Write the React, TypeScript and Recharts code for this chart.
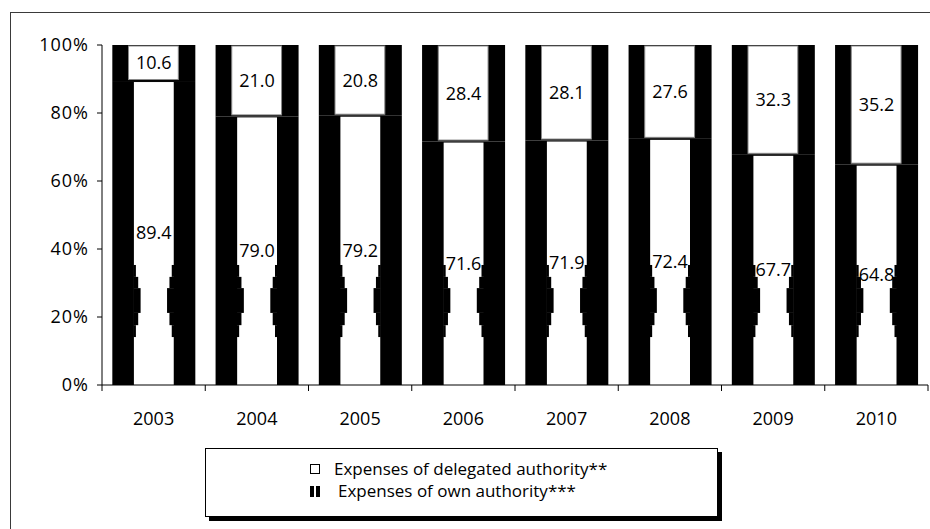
import React from 'react';
import { BarChart, Bar, XAxis, YAxis, LabelList } from 'recharts';

const years = ['2003', '2004', '2005', '2006', '2007', '2008', '2009', '2010'];
const delegatedShare = [10.6, 21.0, 20.8, 28.4, 28.1, 27.6, 32.3, 35.2];
const ownShare = [89.4, 79.0, 79.2, 71.6, 71.9, 72.4, 67.7, 64.8];
const yTicks = [0, 20, 40, 60, 80, 100];
const seriesNames = ['Expenses of delegated authority**', 'Expenses of own authority***'];

const data = years.map((year, i) => ({ year, own: ownShare[i], delegated: delegatedShare[i] }));

const FONT = '"Open Sans", sans-serif';
const FS = 18;

// pinched part of the striped fill, in axis units: [from, to, inset px]
const pinch: [number, number, number][] = [
  [14.1, 17.6, 2],
  [17.6, 21.2, 4.3],
  [21.2, 28.5, 6.7],
  [28.5, 31.8, 4.3],
  [31.8, 35.3, 2],
];

const OwnShape = (props: any) => {
  const { x, y, width, height, payload } = props;
  const bottom = y + height;
  const per = height / payload.own;
  const xl = x + width * 0.26;
  const xr = x + width * 0.74;
  return (
    <g>
      <rect x={x} y={y} width={width} height={height} fill="#000" />
      <rect x={xl} y={y + 1} width={xr - xl} height={height - 1} fill="#fff" />
      {pinch.map(([a, b, d], i) => (
        <g key={i}>
          <rect x={xl - 0.5} y={bottom - b * per} width={d + 0.5} height={(b - a) * per} fill="#000" />
          <rect x={xr - d} y={bottom - b * per} width={d + 0.5} height={(b - a) * per} fill="#000" />
        </g>
      ))}
    </g>
  );
};

const DelegatedShape = (props: any) => {
  const { x, y, width, height } = props;
  return (
    <g>
      <rect x={x} y={y} width={width} height={height} fill="#000" />
      <rect
        x={x + width * 0.195}
        y={y + 1}
        width={width * 0.6}
        height={height - 2.5}
        fill="#fff"
        stroke="#8a8a8a"
        strokeWidth={1}
      />
    </g>
  );
};

// year label plus the tick marks sitting between categories
const YearTick = (props: any) => {
  const { x, y, payload, index } = props;
  const half = payload.offset || 51.5;
  const top = y - 27;
  return (
    <g>
      <line x1={x - half} x2={x - half} y1={top} y2={top + 6} stroke="#000" />
      {index === years.length - 1 && (
        <line x1={x + half} x2={x + half} y1={top} y2={top + 6} stroke="#000" />
      )}
      <text x={x} y={y} dy="0.72em" textAnchor="middle" fill="#000" fontSize={FS} fontFamily={FONT}>
        {payload.value}
      </text>
    </g>
  );
};

const labelStyle = { fill: '#000', fontSize: FS, fontFamily: FONT };

const LegendBox = () => (
  <div
    style={{
      position: 'absolute',
      left: 205,
      top: 448,
      width: 511,
      height: 67,
      border: '1px solid #000',
      boxShadow: '4px 4px 0 #000',
      background: '#fff',
      fontFamily: FONT,
      fontSize: 17,
      lineHeight: '20px',
      color: '#000',
    }}
  >
    <div style={{ position: 'absolute', left: 104, top: 10, display: 'flex', alignItems: 'center', height: 20 }}>
      <span style={{ width: 8, height: 8, border: '1.5px solid #000', background: '#fff', marginRight: 14 }} />
      {seriesNames[0]}
    </div>
    <div style={{ position: 'absolute', left: 104, top: 32, display: 'flex', alignItems: 'center', height: 20 }}>
      <span
        style={{
          width: 10,
          height: 11,
          background: 'linear-gradient(90deg, #000 0 38%, #fff 38% 62%, #000 62% 100%)',
          marginRight: 18,
        }}
      />
      {seriesNames[1]}
    </div>
  </div>
);

const App: React.FC = () => {
  return (
    <div style={{ position: 'absolute', left: 0, top: 0, width: 930, height: 529, overflow: 'hidden', background: '#fff' }}>
      <div
        style={{
          position: 'absolute',
          left: 10,
          top: 12,
          width: 960,
          height: 560,
          border: '1px solid #3a3a3a',
        }}
      />
      <div style={{ position: 'absolute', left: 0, top: 0 }}>
        <BarChart
          width={930}
          height={529}
          data={data}
          margin={{ top: 45, right: 2, bottom: 114, left: 42 }}
          barCategoryGap="10%"
        >
          <XAxis
            dataKey="year"
            tickLine={false}
            tickSize={6}
            tickMargin={21}
            axisLine={{ stroke: '#000' }}
            tick={<YearTick />}
            interval={0}
          />
          <YAxis
            width={60}
            domain={[0, 100]}
            ticks={yTicks}
            tickFormatter={(v: number) => `${v}%`}
            axisLine={{ stroke: '#000' }}
            tickLine={{ stroke: '#000' }}
            tickSize={5}
            tickMargin={8}
            tick={{ fill: '#000', fontSize: FS, fontFamily: FONT, letterSpacing: 1 }}
          />
          <Bar dataKey="own" stackId="s" shape={<OwnShape />} isAnimationActive={false}>
            <LabelList dataKey="own" position="center" formatter={(v: any) => Number(v).toFixed(1)} style={labelStyle} />
          </Bar>
          <Bar dataKey="delegated" stackId="s" shape={<DelegatedShape />} isAnimationActive={false}>
            <LabelList dataKey="delegated" position="center" formatter={(v: any) => Number(v).toFixed(1)} style={labelStyle} />
          </Bar>
        </BarChart>
      </div>
      <LegendBox />
    </div>
  );
};

export default App;
